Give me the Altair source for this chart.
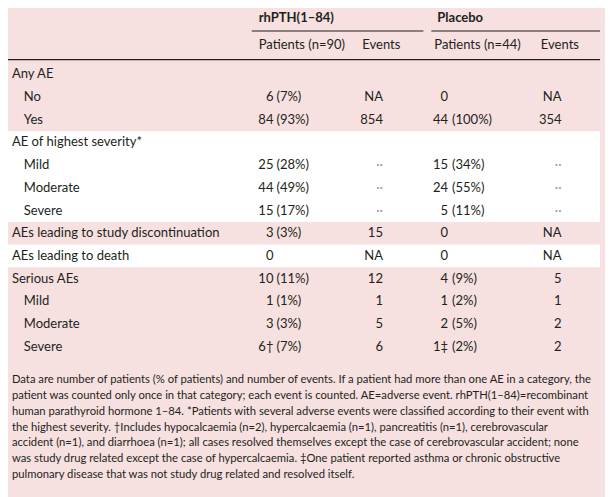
import altair as alt
import pandas as pd

# ---------------- data ----------------
group_headers = ["rhPTH(1–84)", "Placebo"]
col_headers = ["Patients (n=90)", "Events", "Patients (n=44)", "Events"]

labels = ["Any AE", "No", "Yes", "AE of highest severity*", "Mild", "Moderate", "Severe",
          "AEs leading to study discontinuation", "AEs leading to death", "Serious AEs",
          "Mild", "Moderate", "Severe"]
indent = [0, 1, 1, 0, 1, 1, 1, 0, 0, 0, 1, 1, 1]
rh_n = ["", "6", "84", "", "25", "44", "15", "3", "0", "10", "1", "3", "6†"]
rh_pct = ["", "(7%)", "(93%)", "", "(28%)", "(49%)", "(17%)", "(3%)", "", "(11%)", "(1%)", "(3%)", "(7%)"]
rh_ev = ["", "NA", "854", "", "··", "··", "··", "15", "NA", "12", "1", "5", "6"]
pl_n = ["", "0", "44", "", "15", "24", "5", "0", "0", "4", "1", "2", "1‡"]
pl_pct = ["", "", "(100%)", "", "(34%)", "(55%)", "(11%)", "", "", "(9%)", "(2%)", "(5%)", "(2%)"]
pl_ev = ["", "NA", "354", "", "··", "··", "··", "NA", "NA", "5", "1", "2", "2"]
white_rows = [[3, 6], [8, 8]]

footnote = [
    "Data are number of patients (% of patients) and number of events. If a patient had more than one AE in a category, the",
    "patient was counted only once in that category; each event is counted. AE=adverse event. rhPTH(1–84)=recombinant",
    "human parathyroid hormone 1–84. *Patients with several adverse events were classified according to their event with",
    "the highest severity. †Includes hypocalcaemia (n=2), hypercalcaemia (n=1), pancreatitis (n=1), cerebrovascular",
    "accident (n=1), and diarrhoea (n=1); all cases resolved themselves except the case of cerebrovascular accident; none",
    "was study drug related except the case of hypercalcaemia. ‡One patient reported asthma or chronic obstructive",
    "pulmonary disease that was not study drug related and resolved itself.",
]

# ---------------- layout ----------------
W, H = 605, 489
PINK = "#f6e1e0"
INK = "#231f20"
FONT = "Lato"
FS = 13.2
FS_NOTE = 11.4

ROW0, ROWSTEP = 72, 23
NOTE0, NOTESTEP = 382, 16
HDR1_Y, HDR2_Y = 15, 42

def row_y(i):
    return ROW0 + ROWSTEP * i

X_LABEL, X_INDENT = 12, 24
X_RH_N, X_RH_P, X_RH_E = 277, 280, 388
X_PL_N, X_PL_P, X_PL_E = 454, 458, 569

xs = alt.Scale(domain=[8, 8 + W], range=[0, W], nice=False, zero=False)
ys = alt.Scale(domain=[8, 8 + H], range=[0, H], nice=False, zero=False)

def X(f):
    return alt.X(f, type="quantitative", scale=xs, axis=None)

def Y(f):
    return alt.Y(f, type="quantitative", scale=ys, axis=None)

# bands
bands = pd.DataFrame([
    {"x": 6, "x2": 608, "y": row_y(a) - ROWSTEP / 2, "y2": row_y(b) + ROWSTEP / 2}
    for a, b in white_rows
])
band_layer = alt.Chart(bands).mark_rect(color="white").encode(
    x=X("x"), x2="x2", y=Y("y"), y2="y2")

# rules
rules = pd.DataFrame([
    {"x": 255, "x2": 429, "y": 28},
    {"x": 437, "x2": 608, "y": 28},
    {"x": 6, "x2": 608, "y": 57},
])
rule_layer = alt.Chart(rules).mark_rule(color=INK, strokeWidth=1.2).encode(
    x=X("x"), x2="x2", y=Y("y"))

# texts
left_rows, right_rows, gray_rows = [], [], []
for i, lab in enumerate(labels):
    y = row_y(i)
    left_rows.append({"x": X_INDENT if indent[i] else X_LABEL, "y": y, "t": lab})
    for val, xr in ((rh_n[i], X_RH_N), (pl_n[i], X_PL_N)):
        if val:
            right_rows.append({"x": xr, "y": y, "t": val})
    for val, xl in ((rh_pct[i], X_RH_P), (pl_pct[i], X_PL_P)):
        if val:
            left_rows.append({"x": xl, "y": y, "t": val})
    for val, xr in ((rh_ev[i], X_RH_E), (pl_ev[i], X_PL_E)):
        if val == "··":
            gray_rows.append({"x": xr, "y": y, "t": val})
        elif val:
            right_rows.append({"x": xr, "y": y, "t": val})

left_rows += [
    {"x": 262, "y": HDR2_Y, "t": col_headers[0]},
    {"x": 367, "y": HDR2_Y, "t": col_headers[1]},
    {"x": 440, "y": HDR2_Y, "t": col_headers[2]},
    {"x": 548, "y": HDR2_Y, "t": col_headers[3]},
]
bold_rows = [
    {"x": 262, "y": HDR1_Y, "t": group_headers[0]},
    {"x": 443, "y": HDR1_Y, "t": group_headers[1]},
]
note_rows = [{"x": X_LABEL, "y": NOTE0 + NOTESTEP * j, "t": s} for j, s in enumerate(footnote)]

def text_layer(rows, align="left", size=FS, weight="normal", color=INK):
    return alt.Chart(pd.DataFrame(rows)).mark_text(
        align=align, baseline="middle", font=FONT, fontSize=size,
        fontWeight=weight, color=color
    ).encode(x=X("x"), y=Y("y"), text="t:N")

chart = alt.layer(
    band_layer,
    rule_layer,
    text_layer(left_rows),
    text_layer(right_rows, align="right"),
    text_layer(gray_rows, align="right", color="#9a9a9a"),
    text_layer(bold_rows, weight="bold"),
    text_layer(note_rows, size=FS_NOTE),
).properties(
    width=W, height=H, background=PINK, padding=0,
    autosize=alt.AutoSizeParams(type="none"),
).configure_view(stroke=None)

chart.save("out.html", embed_options={"renderer": "svg", "actions": False})
